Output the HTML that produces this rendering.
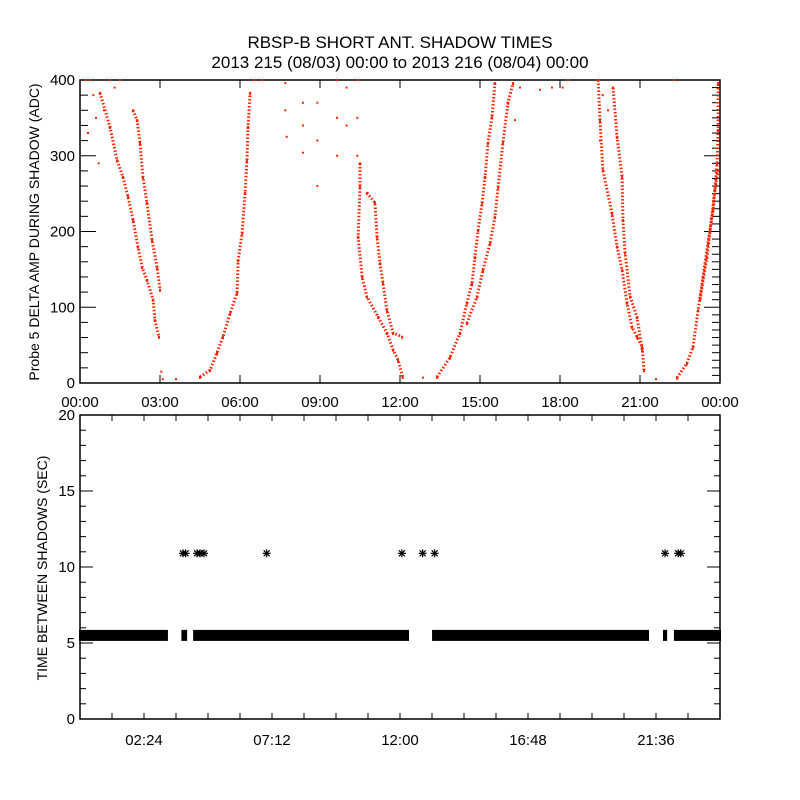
<!DOCTYPE html>
<html><head><meta charset="utf-8"><style>
body{margin:0;background:#fff}
svg{display:block}
text{font-family:"Liberation Sans",sans-serif;fill:#000}
</style></head><body>
<svg id="chart" width="800" height="800" viewBox="0 0 800 800">
<rect width="800" height="800" fill="#fff"/>
<text x="400" y="48" font-size="17" text-anchor="middle">RBSP-B SHORT ANT. SHADOW TIMES</text>
<text x="400" y="68" font-size="17" text-anchor="middle">2013 215 (08/03) 00:00 to 2013 216 (08/04) 00:00</text>
<g id="topPanel"></g><g id="botPanel"></g>
<text transform="translate(39,232) rotate(-90)" font-size="14" text-anchor="middle">Probe 5 DELTA AMP DURING SHADOW (ADC)</text>
<text transform="translate(47,568) rotate(-90)" font-size="14" text-anchor="middle">TIME BETWEEN SHADOWS (SEC)</text>
</svg>
<script>
// ---- top panel data: strands of [hour, ADC value]
const strandA1=[[0.75,383],[1.125,338],[1.39,294],[1.61,272],[1.8,246],[1.99,215],[2.17,180],[2.33,153],[2.51,136],[2.74,110],[2.81,83],[2.96,61]];
const strandA2=[[1.99,360],[2.14,347],[2.25,317],[2.36,272],[2.51,238],[2.7,189],[2.89,153],[3.0,123]];
const strandB=[[4.5,8],[4.88,17],[5.14,40],[5.36,61],[5.63,92],[5.89,119],[5.93,162],[6.08,198],[6.19,251],[6.26,294],[6.3,338],[6.38,383]];
const strandC1=[[10.5,290],[10.5,259],[10.43,193],[10.58,140],[10.76,114],[11.18,87],[11.51,66],[11.74,44],[11.93,30],[12.1,8]];
const strandC2=[[10.76,251],[11.06,238],[11.14,193],[11.25,158],[11.36,132],[11.51,96],[11.74,66],[12.08,61]];
const strandD1=[[13.39,8],[13.88,34],[14.25,66],[14.51,106],[14.7,132],[14.81,166],[14.93,202],[15.08,238],[15.19,272],[15.3,317],[15.45,351],[15.56,396]];
const strandD2=[[14.51,79],[14.89,114],[15.11,149],[15.38,185],[15.56,219],[15.68,259],[15.86,317],[16.05,370],[16.24,396]];
const strandE1=[[19.43,400],[19.5,347],[19.61,281],[19.95,224],[20.14,180],[20.33,149],[20.51,106],[20.7,74],[20.89,61],[21.08,48],[21.15,17]];
const strandE2=[[19.99,390],[20.14,325],[20.33,272],[20.36,215],[20.44,172],[20.63,114],[20.89,87],[21.08,44]];
const strandF1=[[22.39,7],[22.76,26],[22.99,48],[23.18,96],[23.36,140],[23.55,185],[23.74,228],[23.89,290],[23.93,334],[23.93,396]];
const strandF2=[[23.25,110],[23.51,166],[23.63,202],[23.81,255],[23.93,281]];
const scatterPts=[[0.2,400],[0.3,330],[0.4,400],[0.5,380],[0.6,350],[0.7,290],[0.9,360],[1.1,400],[1.3,390],[1.5,400],[3.05,15],[3.1,5],[3.6,5],[6.5,400],[6.8,400],[7.7,396],[7.7,360],[7.75,325],[8.36,370],[8.36,340],[8.36,304],[8.9,370],[8.9,320],[8.9,260],[9.64,400],[9.64,350],[9.64,300],[10.0,390],[10.0,340],[10.4,400],[10.4,350],[10.4,300],[12.86,7],[16.31,347],[16.5,390],[17.25,387],[17.7,390],[18.1,390],[18.3,400],[19.6,380],[19.8,360],[19.5,320],[21.6,5],[22.3,400]];
const topXTicks=["00:00","03:00","06:00","09:00","12:00","15:00","18:00","21:00","00:00"];
const topYTicks=[0,100,200,300,400];
// ---- bottom panel data
const bandSegments=[[0,3.26],[3.84,3.98],[4.28,12.3],[13.24,21.3],[21.9,21.98],[22.31,24]];
const bandValue=5.5;
const outlierHours=[3.86,3.96,4.39,4.5,4.65,7.0,12.07,12.85,13.3,21.94,22.43,22.53];
const outlierValue=10.9;
const botXTickLabels=["02:24","07:12","12:00","16:48","21:36"];
const botXLabelHours=[2.4,7.2,12,16.8,21.6];
const botYTicks=[0,5,10,15,20];

const NS="http://www.w3.org/2000/svg";
function mk(parent,tag,attrs){const e=document.createElementNS(NS,tag);for(const k in attrs)e.setAttribute(k,attrs[k]);parent.appendChild(e);return e;}
const topG=document.getElementById('topPanel'), botG=document.getElementById('botPanel');
const L=80,R=720,T1=80,B1=383,T2=415,B2=719;
const xT=h=>L+h/24*(R-L);
const yT=v=>B1-v*(B1-T1)/400;
const yB=v=>B2-v*(B2-T2)/20;

let f=mk(topG,'rect',{x:L,y:T1,width:R-L,height:B1-T1,fill:'none',stroke:'#000','stroke-width':1.5});


for(let v=0;v<=400;v+=10){
  const maj=v%100===0, y=yT(v);
  if(v%20===0){const t=mk(topG,'line',{x1:L,x2:L+(maj?16:8),y1:y,y2:y,stroke:'#000'});
  
  }
  const t2=mk(topG,'line',{x1:R,x2:R-(maj?16:8),y1:y,y2:y,stroke:'#000'});
  
  
}
topYTicks.forEach(v=>{const t=mk(topG,'text',{x:L-5,y:yT(v)+5,'font-size':15,'text-anchor':'end'});t.textContent=v;

});
topXTicks.forEach((s,i)=>{const x=xT(i*3);
 const a=mk(topG,'line',{x1:x,x2:x,y1:B1,y2:B1-8,stroke:'#000'});
 
 
 const b=mk(topG,'line',{x1:x,x2:x,y1:T1,y2:T1+8,stroke:'#000'});
 
 
 const t=mk(topG,'text',{x:x,y:407,'font-size':15,'text-anchor':'middle'});t.textContent=s;
 
 });

const strands=[strandA1,strandA2,strandB,strandC1,strandC2,strandD1,strandD2,strandE1,strandE2,strandF1,strandF2];
strands.forEach((s,i)=>{
  const pl=mk(topG,'polyline',{points:s.map(p=>xT(p[0])+','+yT(p[1])).join(' '),fill:'none',stroke:'#ff2200','stroke-width':3,'stroke-dasharray':'1.5 2'});
  
  
  s.forEach(p=>{const r=mk(topG,'rect',{x:xT(p[0])-1,y:yT(p[1])-1,width:2,height:3,fill:'#ff2200'});
  
  });
});
scatterPts.forEach(p=>{const r=mk(topG,'rect',{x:xT(p[0])-1,y:yT(p[1])-1,width:2,height:2,fill:'#ff2200'});

});

f=mk(botG,'rect',{x:L,y:T2,width:R-L,height:B2-T2,fill:'none',stroke:'#000','stroke-width':1.5});


for(let v=0;v<=20;v++){const maj=v%5===0,y=yB(v);
 const a=mk(botG,'line',{x1:L,x2:L+(maj?13:6),y1:y,y2:y,stroke:'#000'});
 
 
 const b=mk(botG,'line',{x1:R,x2:R-(maj?13:6),y1:y,y2:y,stroke:'#000'});
 
 }
botYTicks.forEach(v=>{const t=mk(botG,'text',{x:L-5,y:yB(v)+5,'font-size':15,'text-anchor':'end'});t.textContent=v;

});
for(let h=1.2;h<24;h+=1.2){const x=xT(h);
 const a=mk(botG,'line',{x1:x,x2:x,y1:B2,y2:B2-6,stroke:'#000'});
 
 
 const b=mk(botG,'line',{x1:x,x2:x,y1:T2,y2:T2+6,stroke:'#000'});
 
 }
botXTickLabels.forEach((s,i)=>{const t=mk(botG,'text',{x:xT(botXLabelHours[i]),y:745,'font-size':15,'text-anchor':'middle'});t.textContent=s;

});

bandSegments.forEach(s=>{const x0=xT(s[0]),x1=xT(s[1]);
 const r=mk(botG,'rect',{x:x0-1,y:yB(bandValue)-5.5,width:Math.max(x1-x0,2)+2,height:11,fill:'#000'});
 
 });
function star(x,y){const g=mk(botG,'g',{stroke:'#000','stroke-width':1.2});
 
 
 mk(g,'line',{x1:x-4,x2:x+4,y1:y,y2:y});mk(g,'line',{x1:x,x2:x,y1:y-4,y2:y+4});
 mk(g,'line',{x1:x-3,x2:x+3,y1:y-3,y2:y+3});mk(g,'line',{x1:x-3,x2:x+3,y1:y+3,y2:y-3});}
outlierHours.forEach(h=>star(xT(h),yB(outlierValue)));
</script>
</body></html>
